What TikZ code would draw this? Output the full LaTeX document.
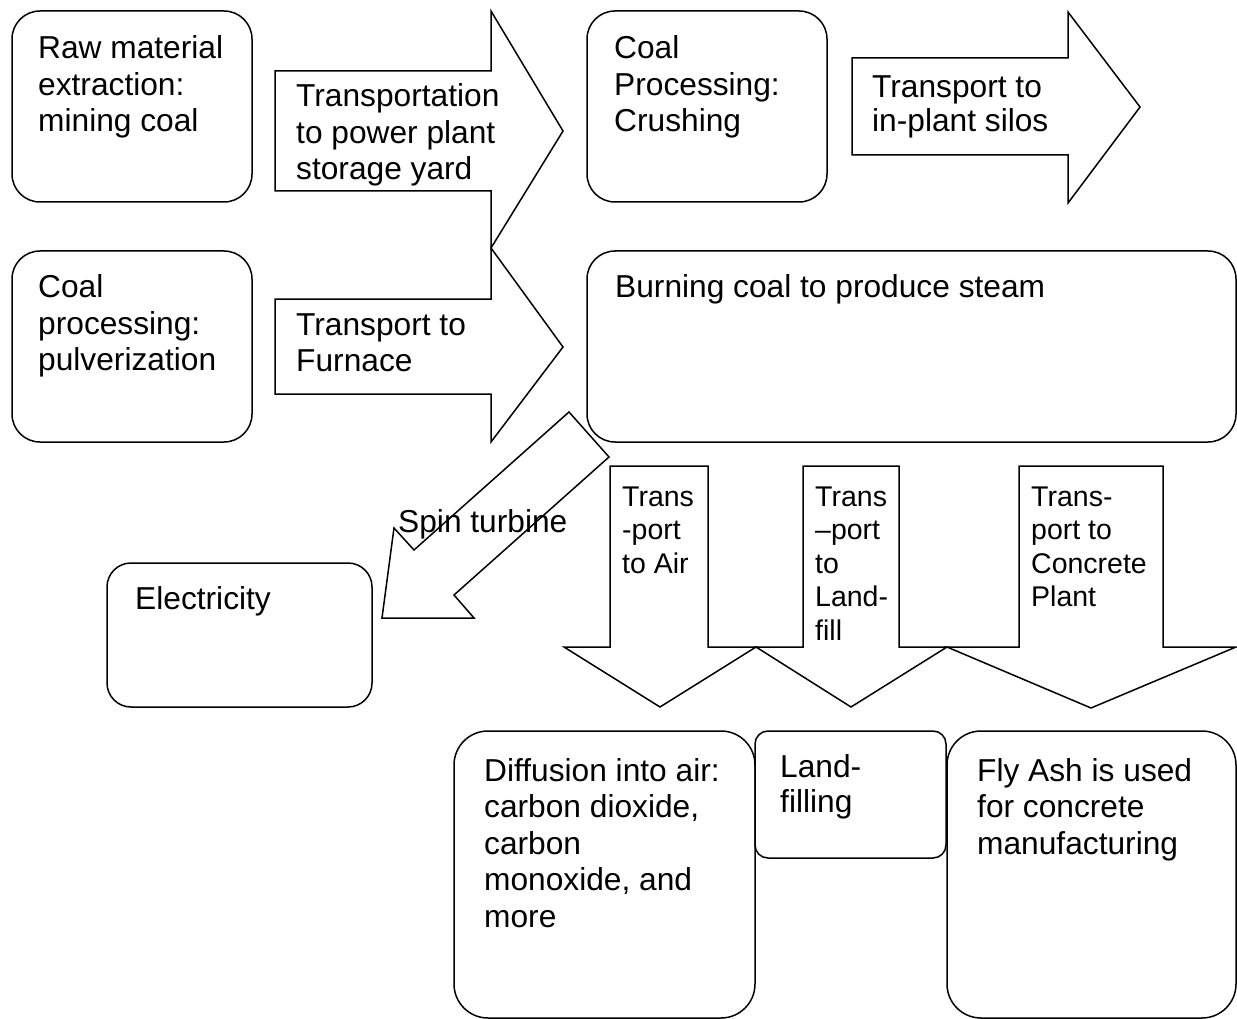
\documentclass[tikz,border=0pt]{standalone}
\usepackage{fontspec}
\setmainfont{Liberation Sans}
\begin{document}
\begin{tikzpicture}[x=1pt,y=-1pt,
  box/.style={draw, line width=1.5pt, rounded corners=28pt, anchor=north west, inner sep=0pt, outer sep=0pt},
  blk/.style={draw, line width=1.5pt, line join=miter},
  txt/.style={anchor=base west, inner sep=0pt, font=\fontsize{31.7}{36.5}\selectfont},
  stxt/.style={anchor=base west, inner sep=0pt, font=\fontsize{28.5}{33.5}\selectfont}]
\useasboundingbox (0,0) rectangle (1237,1019);

% rounded boxes
\node[box, minimum width=240pt, minimum height=191pt] (raw) at (12,11) {};
\node[box, minimum width=240pt, minimum height=191pt] (crush) at (587,11) {};
\node[box, minimum width=240pt, minimum height=191pt] (pulv) at (12,251) {};
\node[box, minimum width=649pt, minimum height=191pt] (burn) at (587,251) {};
\node[box, rounded corners=24pt, minimum width=265pt, minimum height=144pt] (elec) at (107,563) {};
\node[box, rounded corners=34pt, minimum width=301pt, minimum height=287pt] (diff) at (454,731) {};
\node[box, rounded corners=13pt, minimum width=191pt, minimum height=127pt] (land) at (755,731) {};
\node[box, rounded corners=34pt, minimum width=289pt, minimum height=287pt] (fly) at (947,731) {};

% block arrows
\draw[blk] (275,71) -- (491,71) -- (491,11) -- (563,131) -- (491,248) -- (491,191) -- (275,191) -- cycle;
\draw[blk] (275,299) -- (491,299) -- (491,248) -- (563,347) -- (491,442) -- (491,394) -- (275,394) -- cycle;
\draw[blk] (852,58) -- (1068,58) -- (1068,12) -- (1140,107) -- (1068,203) -- (1068,155) -- (852,155) -- cycle;
\draw[blk] (569,412) -- (609,457) -- (454,595) -- (474,618) -- (382,618) -- (394,528) -- (414,550) -- cycle;
\draw[blk] (610,466) -- (708,466) -- (708,647) -- (756,647) -- (660,707) -- (564,647) -- (610,647) -- cycle;
\draw[blk] (803,466) -- (899,466) -- (899,647) -- (947,647) -- (851,707) -- (756,647) -- (803,647) -- cycle;
\draw[blk] (1019,466) -- (1163,466) -- (1163,647) -- (1236,647) -- (1091,708) -- (947,647) -- (1019,647) -- cycle;

% texts
\node[txt] (traw) at (38,59) {\parbox[t]{220pt}{Raw material\\extraction:\\mining coal}};
\node[txt] (ttransp) at (296,107) {\parbox[t]{260pt}{Transportation\\to power plant\\storage yard}};
\node[txt] (tcrush) at (614,59) {\parbox[t]{220pt}{Coal\\Processing:\\Crushing}};
\node[txt, font=\fontsize{31.7}{34}\selectfont] (tsilo) at (872,98) {\parbox[t]{220pt}{Transport to\\in-plant silos}};
\node[txt] (tpulv) at (38,298) {\parbox[t]{220pt}{Coal\\processing:\\pulverization}};
\node[txt] (tfurn) at (296,335) {\parbox[t]{220pt}{Transport to\\Furnace}};
\node[txt] (tburn) at (615,298) {Burning coal to produce steam};
\node[txt] (tspin) at (398,532) {Spin turbine};
\node[txt] (telec) at (135,609) {Electricity};
\node[stxt] (tair) at (622,506) {\parbox[t]{100pt}{Trans\\-port\\to Air}};
\node[stxt] (tland) at (815,506) {\parbox[t]{100pt}{Trans\\–port\\to\\Land-\\fill}};
\node[stxt] (tconc) at (1031,506) {\parbox[t]{140pt}{Trans-\\port to\\Concrete\\Plant}};
\node[txt] (tdiff) at (484,781) {\parbox[t]{280pt}{Diffusion into air:\\carbon dioxide,\\carbon\\monoxide, and\\more}};
\node[txt, font=\fontsize{31.7}{35}\selectfont] (tlandf) at (780,777) {\parbox[t]{160pt}{Land-\\filling}};
\node[txt] (tfly) at (977,781) {\parbox[t]{260pt}{Fly Ash is used\\for concrete\\manufacturing}};
\end{tikzpicture}
\end{document}
